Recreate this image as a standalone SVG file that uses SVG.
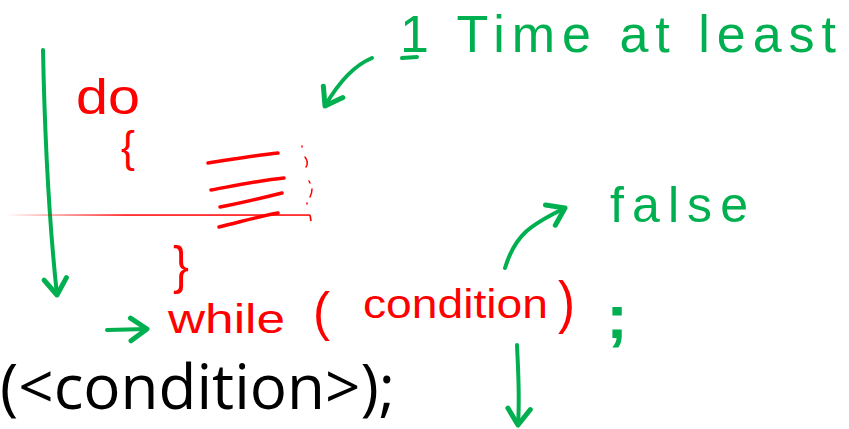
<svg xmlns="http://www.w3.org/2000/svg" width="849" height="429" viewBox="0 0 849 429">
<style>
.g{fill:none;stroke:#00B050;stroke-width:4;stroke-linecap:round;stroke-linejoin:round}
.r{fill:none;stroke:#FF0000;stroke-width:3.5;stroke-linecap:round;stroke-linejoin:round}
.tr{fill:#FF0000;font-family:"Liberation Sans",Arial,sans-serif}
.tg{fill:#00B050;font-family:"Liberation Sans",Arial,sans-serif}
.tb{fill:#000;font-family:"Open Sans","Liberation Sans",sans-serif}
</style>
<defs>
<linearGradient id="fade" gradientUnits="userSpaceOnUse" x1="5" y1="0" x2="310" y2="0">
<stop offset="0" stop-color="#FF0000" stop-opacity="0"/>
<stop offset="0.4" stop-color="#FF0000" stop-opacity="1"/>
<stop offset="1" stop-color="#FF0000" stop-opacity="1"/>
</linearGradient>
<marker id="ah" markerUnits="userSpaceOnUse" markerWidth="30" markerHeight="30" refX="0" refY="0" viewBox="-16 -12 20 24" orient="auto" overflow="visible">
<path d="M-13,-9 L0,0 L-13,9" fill="none" stroke="#00B050" stroke-width="4" stroke-linecap="round" stroke-linejoin="round"/>
</marker>
</defs>

<g id="connectors">
<path class="g" d="M43,50 C45,150 50,230 57,295" marker-end="url(#ah)"/>
<path class="g" d="M372,58 C355,65 340,80 325,106" marker-end="url(#ah)"/>
<path class="g" d="M505,268 C515,235 530,225 565,208" marker-end="url(#ah)"/>
<path class="g" d="M517,345 C518,370 520,395 518,425" marker-end="url(#ah)"/>
<path class="g" d="M107,330 L147,329" marker-end="url(#ah)"/>
</g>

<g id="body-lines">
<rect x="5" y="214.3" width="305" height="1.5" fill="url(#fade)"/>
<path d="M310,215 L311,221" fill="none" stroke="#FF0000" stroke-width="1.6"/>
<path class="r" d="M208,163 C235,159 258,155 278,153"/>
<path class="r" d="M211,190 C238,185 262,180 284,178"/>
<path class="r" d="M220,207 C242,203 262,198 282,193"/>
<path class="r" d="M219,227 C240,222 260,216 278,213"/>
<g fill="none" stroke="#FF0000" stroke-width="1.5" stroke-linecap="round">
<path d="M302,146 L302,147"/>
<path d="M305,157 C308,161 308,164 306,167"/>
<path d="M309,181 L310,183"/>
<path d="M312,189 C312,192 311,195 310,197"/>
<path d="M307,203 L307,204"/>
</g>
</g>

<g id="do">
<text class="tr" x="76" y="114" font-size="50" textLength="64" lengthAdjust="spacingAndGlyphs">do</text>
</g>
<g id="open-brace">
<text class="tr" x="121" y="162" font-size="44" textLength="14" lengthAdjust="spacingAndGlyphs">{</text>
</g>
<g id="close-brace">
<text class="tr" x="173" y="283" font-size="52" textLength="16" lengthAdjust="spacingAndGlyphs">}</text>
</g>
<g id="while">
<text class="tr" x="168" y="333" font-size="40" textLength="117" lengthAdjust="spacingAndGlyphs">while</text>
<text class="tr" x="313" y="330" font-size="54" textLength="17" lengthAdjust="spacingAndGlyphs">(</text>
<text class="tr" x="363" y="318" font-size="40" textLength="185" lengthAdjust="spacingAndGlyphs">condition</text>
<text class="tr" x="558" y="322" font-size="58" textLength="17" lengthAdjust="spacingAndGlyphs">)</text>
</g>
<g id="semicolon">
<text class="tg" x="606" y="338" font-size="62" font-weight="bold" textLength="22" lengthAdjust="spacingAndGlyphs">;</text>
</g>
<g id="at-least">
<text class="tg" x="400" y="52" font-size="52" textLength="436" lengthAdjust="spacing">1 Time  at  least</text>
<path class="g" d="M402,58 L417,57" stroke-width="3"/>
</g>
<g id="false">
<text class="tg" x="610" y="222" font-size="50" textLength="138" lengthAdjust="spacing">false</text>
</g>
<g id="syntax">
<text class="tb" x="0" y="409" font-size="62" textLength="395" lengthAdjust="spacingAndGlyphs">(&lt;condition&gt;);</text>
</g>
</svg>
